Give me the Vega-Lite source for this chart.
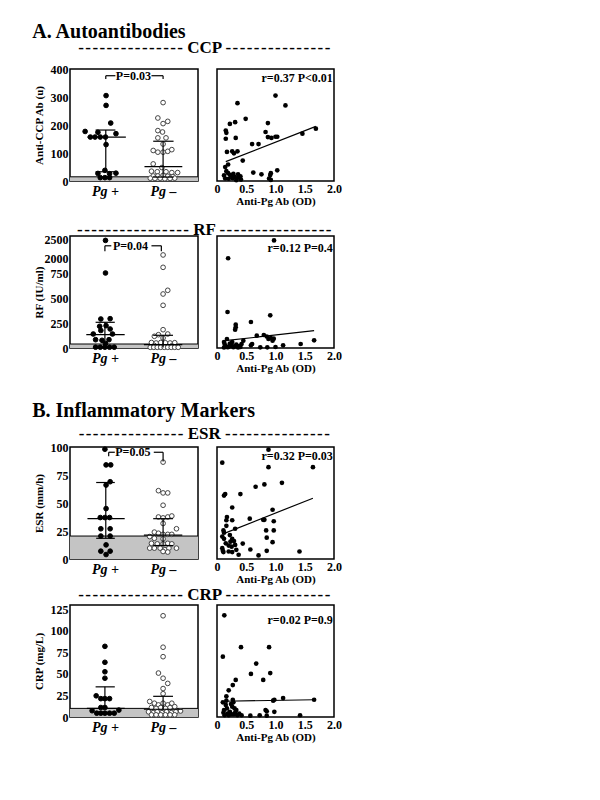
{
  "$schema": "https://vega.github.io/schema/vega-lite/v6.json",
  "padding": {"top": 22, "left": 32, "right": 5, "bottom": 5},
  "config": {
    "font": "Liberation Serif",
    "view": {"stroke": "black", "strokeWidth": 1.5},
    "axis": {"grid": false, "ticks": false, "domain": false, "labelFont": "Liberation Serif", "labelFontWeight": "bold", "labelFontSize": 12, "labelColor": "black", "titleFont": "Liberation Serif", "titleFontWeight": "bold", "titleFontSize": 11, "titleColor": "black", "labelOverlap": false, "labelFlush": false, "tickCount": 12},
    "title": {"font": "Liberation Serif", "fontWeight": "bold", "color": "black", "fontSize": 17, "offset": 4},
    "text": {"font": "Liberation Serif"}
  },
  "datasets": {
    "ccp_d": [
      {"x":1.02,"v":305,"g":"+"},{"x":1.02,"v":270,"g":"+"},{"x":1.10,"v":207,"g":"+"},{"x":0.66,"v":177,"g":"+"},{"x":0.88,"v":174,"g":"+"},{"x":1.19,"v":169,"g":"+"},{"x":0.75,"v":157,"g":"+"},{"x":0.83,"v":157,"g":"+"},{"x":0.92,"v":157,"g":"+"},{"x":1.01,"v":157,"g":"+"},{"x":1.02,"v":130,"g":"+"},{"x":1.0,"v":38,"g":"+"},{"x":0.88,"v":27,"g":"+"},{"x":1.08,"v":26,"g":"+"},{"x":1.19,"v":28,"g":"+"},{"x":0.92,"v":12,"g":"+"},{"x":1.0,"v":12,"g":"+"},{"x":1.08,"v":12,"g":"+"},
      {"x":2.0,"v":280,"g":"-"},{"x":1.91,"v":225,"g":"-"},{"x":2.08,"v":213,"g":"-"},{"x":2.0,"v":205,"g":"-"},{"x":1.91,"v":180,"g":"-"},{"x":1.99,"v":175,"g":"-"},{"x":1.91,"v":154,"g":"-"},{"x":2.05,"v":154,"g":"-"},{"x":2.0,"v":132,"g":"-"},{"x":1.83,"v":109,"g":"-"},{"x":1.91,"v":103,"g":"-"},{"x":2.0,"v":103,"g":"-"},{"x":2.08,"v":106,"g":"-"},{"x":2.15,"v":112,"g":"-"},{"x":1.83,"v":61,"g":"-"},{"x":1.98,"v":48,"g":"-"},{"x":1.80,"v":35,"g":"-"},{"x":1.90,"v":33,"g":"-"},{"x":2.05,"v":33,"g":"-"},{"x":2.15,"v":30,"g":"-"},{"x":2.25,"v":30,"g":"-"},{"x":1.83,"v":18,"g":"-"},{"x":1.91,"v":18,"g":"-"},{"x":2.0,"v":20,"g":"-"},{"x":2.08,"v":17,"g":"-"},{"x":2.17,"v":16,"g":"-"},{"x":1.78,"v":10,"g":"-"},{"x":1.86,"v":9,"g":"-"},{"x":1.95,"v":10,"g":"-"},{"x":2.03,"v":8,"g":"-"},{"x":2.12,"v":9,"g":"-"},{"x":2.2,"v":10,"g":"-"}
    ],
    "ccp_s": [
      {"x":1.0,"v":305},{"x":1.17,"v":270},{"x":0.35,"v":278},{"x":0.49,"v":222},{"x":0.22,"v":204},{"x":0.31,"v":210},{"x":0.87,"v":207},{"x":0.15,"v":180},{"x":0.16,"v":172},{"x":0.83,"v":175},{"x":0.32,"v":154},{"x":0.15,"v":151},{"x":0.87,"v":157},{"x":0.93,"v":154},{"x":1.0,"v":158},{"x":1.03,"v":158},{"x":0.60,"v":132},{"x":0.71,"v":132},{"x":0.17,"v":104},{"x":0.26,"v":106},{"x":0.29,"v":99},{"x":0.35,"v":106},{"x":1.46,"v":169},{"x":1.69,"v":187},{"x":0.44,"v":73},{"x":0.19,"v":59},{"x":0.14,"v":50},{"x":0.16,"v":35},{"x":0.19,"v":28},{"x":0.28,"v":26},{"x":0.30,"v":15},{"x":0.36,"v":24},{"x":0.40,"v":17},{"x":0.62,"v":30},{"x":0.76,"v":24},{"x":0.92,"v":28},{"x":0.91,"v":21},{"x":1.03,"v":38},{"x":0.89,"v":9},{"x":0.14,"v":9},{"x":0.20,"v":8},{"x":0.27,"v":10},{"x":0.36,"v":12},{"x":0.25,"v":18},{"x":0.22,"v":22},{"x":0.12,"v":20},{"x":0.92,"v":4},{"x":0.41,"v":5},{"x":0.33,"v":3}
    ],
    "rf_d": [
      {"x":1.01,"v":2480,"g":"+"},{"x":1.01,"v":750,"g":"+"},{"x":0.93,"v":290,"g":"+"},{"x":1.09,"v":293,"g":"+"},{"x":0.91,"v":217,"g":"+"},{"x":1.02,"v":223,"g":"+"},{"x":1.09,"v":190,"g":"+"},{"x":0.93,"v":175,"g":"+"},{"x":0.80,"v":140,"g":"+"},{"x":1.13,"v":140,"g":"+"},{"x":0.84,"v":83,"g":"+"},{"x":0.95,"v":77,"g":"+"},{"x":1.07,"v":83,"g":"+"},{"x":1.01,"v":45,"g":"+"},{"x":0.84,"v":8,"g":"+"},{"x":0.92,"v":8,"g":"+"},{"x":1.0,"v":8,"g":"+"},{"x":1.08,"v":8,"g":"+"},{"x":1.16,"v":8,"g":"+"},
      {"x":2.0,"v":2083,"g":"-"},{"x":2.0,"v":1222,"g":"-"},{"x":2.08,"v":577,"g":"-"},{"x":2.0,"v":540,"g":"-"},{"x":2.0,"v":427,"g":"-"},{"x":2.0,"v":183,"g":"-"},{"x":1.92,"v":133,"g":"-"},{"x":2.08,"v":140,"g":"-"},{"x":1.85,"v":117,"g":"-"},{"x":2.0,"v":100,"g":"-"},{"x":1.80,"v":55,"g":"-"},{"x":1.88,"v":50,"g":"-"},{"x":1.96,"v":55,"g":"-"},{"x":2.04,"v":52,"g":"-"},{"x":2.12,"v":50,"g":"-"},{"x":2.2,"v":53,"g":"-"},{"x":1.85,"v":25,"g":"-"},{"x":2.15,"v":22,"g":"-"},{"x":1.78,"v":7,"g":"-"},{"x":1.84,"v":7,"g":"-"},{"x":1.9,"v":7,"g":"-"},{"x":1.96,"v":7,"g":"-"},{"x":2.02,"v":7,"g":"-"},{"x":2.08,"v":7,"g":"-"},{"x":2.14,"v":7,"g":"-"},{"x":2.2,"v":7,"g":"-"},{"x":2.26,"v":7,"g":"-"}
    ],
    "rf_s": [
      {"x":0.975,"v":2480},{"x":0.19,"v":1980},{"x":0.18,"v":360},{"x":0.58,"v":260},{"x":0.91,"v":327},{"x":0.32,"v":233},{"x":0.32,"v":207},{"x":0.31,"v":183},{"x":0.68,"v":123},{"x":0.80,"v":130},{"x":0.85,"v":115},{"x":0.92,"v":100},{"x":0.95,"v":73},{"x":0.88,"v":90},{"x":0.45,"v":73},{"x":0.58,"v":27},{"x":0.74,"v":7},{"x":0.86,"v":7},{"x":1.0,"v":10},{"x":1.13,"v":27},{"x":1.43,"v":40},{"x":1.66,"v":77},{"x":0.12,"v":60},{"x":0.13,"v":40},{"x":0.15,"v":20},{"x":0.12,"v":5},{"x":0.2,"v":10},{"x":0.22,"v":45},{"x":0.25,"v":30},{"x":0.28,"v":8},{"x":0.3,"v":15},{"x":0.33,"v":35},{"x":0.36,"v":5},{"x":0.38,"v":20},{"x":0.4,"v":10},{"x":0.42,"v":40},{"x":0.17,"v":90},{"x":0.26,"v":60},{"x":0.6,"v":40},{"x":0.97,"v":93},{"x":0.18,"v":8},{"x":0.23,"v":25}
    ],
    "esr_d": [
      {"x":1.0,"v":98,"g":"+"},{"x":1.02,"v":84,"g":"+"},{"x":1.10,"v":84,"g":"+"},{"x":1.09,"v":69,"g":"+"},{"x":1.02,"v":66,"g":"+"},{"x":1.02,"v":45,"g":"+"},{"x":0.92,"v":37,"g":"+"},{"x":1.0,"v":37,"g":"+"},{"x":1.08,"v":37,"g":"+"},{"x":0.93,"v":27,"g":"+"},{"x":1.09,"v":27,"g":"+"},{"x":0.93,"v":20.5,"g":"+"},{"x":1.09,"v":20.5,"g":"+"},{"x":1.02,"v":12.6,"g":"+"},{"x":0.93,"v":7,"g":"+"},{"x":1.09,"v":7,"g":"+"},{"x":1.02,"v":4,"g":"+"},
      {"x":2.0,"v":86.5,"g":"-"},{"x":1.92,"v":61,"g":"-"},{"x":2.0,"v":59,"g":"-"},{"x":2.08,"v":59,"g":"-"},{"x":2.0,"v":48,"g":"-"},{"x":1.92,"v":37.5,"g":"-"},{"x":2.0,"v":36.7,"g":"-"},{"x":2.08,"v":37.5,"g":"-"},{"x":2.15,"v":38.4,"g":"-"},{"x":2.0,"v":31.7,"g":"-"},{"x":2.23,"v":27,"g":"-"},{"x":1.85,"v":24,"g":"-"},{"x":1.92,"v":23,"g":"-"},{"x":2.0,"v":22,"g":"-"},{"x":2.08,"v":22,"g":"-"},{"x":2.15,"v":22,"g":"-"},{"x":1.77,"v":20,"g":"-"},{"x":1.85,"v":18.5,"g":"-"},{"x":2.0,"v":18,"g":"-"},{"x":1.80,"v":14,"g":"-"},{"x":1.90,"v":13.5,"g":"-"},{"x":2.0,"v":13.5,"g":"-"},{"x":2.08,"v":14,"g":"-"},{"x":2.15,"v":13.5,"g":"-"},{"x":1.77,"v":9.7,"g":"-"},{"x":1.85,"v":9.7,"g":"-"},{"x":1.95,"v":9.7,"g":"-"},{"x":2.03,"v":8.3,"g":"-"},{"x":2.1,"v":9.7,"g":"-"},{"x":2.23,"v":9.7,"g":"-"},{"x":2.0,"v":6.7,"g":"-"},{"x":2.08,"v":6.2,"g":"-"}
    ],
    "esr_s": [
      {"x":0.88,"v":97.6},{"x":0.09,"v":86},{"x":0.88,"v":82},{"x":1.64,"v":82},{"x":1.11,"v":68},{"x":0.81,"v":66.6},{"x":0.66,"v":64.5},{"x":0.40,"v":58},{"x":0.14,"v":58},{"x":0.12,"v":56.6},{"x":0.26,"v":46},{"x":0.95,"v":44},{"x":0.17,"v":37.5},{"x":0.16,"v":34.6},{"x":0.56,"v":36},{"x":0.26,"v":34.6},{"x":0.79,"v":35},{"x":0.81,"v":35},{"x":0.97,"v":33.7},{"x":0.16,"v":29.6},{"x":0.31,"v":27},{"x":0.11,"v":25.5},{"x":0.12,"v":23.5},{"x":0.84,"v":25.5},{"x":0.97,"v":25.5},{"x":0.09,"v":20},{"x":0.22,"v":21.4},{"x":0.26,"v":17.9},{"x":0.29,"v":16},{"x":0.23,"v":15.5},{"x":0.85,"v":19},{"x":0.44,"v":13.8},{"x":0.95,"v":15},{"x":0.57,"v":8.5},{"x":0.85,"v":7.3},{"x":1.41,"v":6.7},{"x":0.71,"v":3.2},{"x":0.09,"v":9.7},{"x":0.10,"v":7.3},{"x":0.11,"v":6.2},{"x":0.20,"v":6.7},{"x":0.26,"v":6.2},{"x":0.33,"v":8.2},{"x":0.37,"v":3.8},{"x":0.31,"v":12.6},{"x":0.2,"v":12},{"x":0.15,"v":14},{"x":0.25,"v":11},{"x":0.12,"v":18}
    ],
    "crp_d": [
      {"x":1.0,"v":82,"g":"+"},{"x":1.0,"v":63.5,"g":"+"},{"x":1.0,"v":52.5,"g":"+"},{"x":1.0,"v":45,"g":"+"},{"x":0.85,"v":24.6,"g":"+"},{"x":0.93,"v":21.3,"g":"+"},{"x":1.0,"v":21.3,"g":"+"},{"x":1.08,"v":21.3,"g":"+"},{"x":0.93,"v":11,"g":"+"},{"x":1.0,"v":11,"g":"+"},{"x":0.78,"v":7.3,"g":"+"},{"x":1.24,"v":8,"g":"+"},{"x":0.86,"v":4.4,"g":"+"},{"x":0.93,"v":4.4,"g":"+"},{"x":1.0,"v":4.4,"g":"+"},{"x":1.08,"v":4.4,"g":"+"},{"x":1.16,"v":4.4,"g":"+"},
      {"x":2.0,"v":117.5,"g":"-"},{"x":2.0,"v":81,"g":"-"},{"x":2.0,"v":70,"g":"-"},{"x":1.92,"v":51,"g":"-"},{"x":2.0,"v":45,"g":"-"},{"x":2.08,"v":39,"g":"-"},{"x":2.0,"v":33,"g":"-"},{"x":2.0,"v":27,"g":"-"},{"x":1.77,"v":18,"g":"-"},{"x":1.85,"v":16,"g":"-"},{"x":1.92,"v":14,"g":"-"},{"x":2.0,"v":16,"g":"-"},{"x":2.08,"v":14,"g":"-"},{"x":2.15,"v":16,"g":"-"},{"x":1.8,"v":11,"g":"-"},{"x":1.88,"v":10,"g":"-"},{"x":1.96,"v":11,"g":"-"},{"x":2.04,"v":10,"g":"-"},{"x":2.12,"v":11,"g":"-"},{"x":2.2,"v":12,"g":"-"},{"x":1.75,"v":6,"g":"-"},{"x":1.83,"v":5,"g":"-"},{"x":1.9,"v":6,"g":"-"},{"x":1.98,"v":5,"g":"-"},{"x":2.06,"v":6,"g":"-"},{"x":2.14,"v":5,"g":"-"},{"x":2.22,"v":6,"g":"-"},{"x":2.3,"v":7,"g":"-"},{"x":1.8,"v":2.5,"g":"-"},{"x":1.88,"v":2.5,"g":"-"},{"x":1.96,"v":2.5,"g":"-"},{"x":2.04,"v":2.5,"g":"-"},{"x":2.12,"v":2.5,"g":"-"},{"x":2.2,"v":2.5,"g":"-"}
    ],
    "crp_s": [
      {"x":0.125,"v":118},{"x":0.10,"v":70},{"x":0.41,"v":81},{"x":0.89,"v":81},{"x":0.67,"v":62},{"x":0.58,"v":50},{"x":0.91,"v":51},{"x":0.32,"v":43},{"x":0.79,"v":43},{"x":0.27,"v":37},{"x":0.20,"v":31},{"x":0.16,"v":24},{"x":1.13,"v":22},{"x":0.98,"v":20},{"x":0.96,"v":19},{"x":1.66,"v":20},{"x":0.83,"v":8},{"x":0.85,"v":6.7},{"x":0.98,"v":6},{"x":0.57,"v":1.5},{"x":0.73,"v":2},{"x":0.85,"v":1.5},{"x":1.42,"v":2},{"x":0.1,"v":17},{"x":0.15,"v":14},{"x":0.17,"v":10},{"x":0.24,"v":15},{"x":0.26,"v":12},{"x":0.28,"v":17},{"x":0.3,"v":10},{"x":0.33,"v":8},{"x":0.12,"v":8},{"x":0.11,"v":5},{"x":0.13,"v":2},{"x":0.18,"v":4},{"x":0.2,"v":2},{"x":0.22,"v":6},{"x":0.25,"v":3},{"x":0.29,"v":3},{"x":0.31,"v":5},{"x":0.35,"v":2},{"x":0.38,"v":4},{"x":0.42,"v":2},{"x":0.16,"v":19},{"x":0.27,"v":20}
    ]
  },
  "spacing": 27,
  "vconcat": [
    {
      "title": {"text": "A. Autoantibodies", "anchor": "start", "fontSize": 20, "offset": -3},
      "spacing": 13,
      "vconcat": [
        {
          "title": {"text": "-\u200a-\u200a-\u200a-\u200a-\u200a-\u200a-\u200a-\u200a-\u200a-\u200a-\u200a-\u200a-\u200a-\u200a- CCP -\u200a-\u200a-\u200a-\u200a-\u200a-\u200a-\u200a-\u200a-\u200a-\u200a-\u200a-\u200a-\u200a-\u200a-", "anchor": "middle", "dx": 17, "offset": 5},
          "spacing": 13,
          "hconcat": [
            {
              "width": 128, "height": 112,
              "layer": [
                {"data": {"values": [{"v": 0, "v2": 15}]}, "mark": {"type": "rect", "color": "#c4c4c4"}, "encoding": {"y": {"field": "v", "type": "quantitative"}, "y2": {"field": "v2"}}},
                {"data": {"values": [{"v": 15}]}, "mark": {"type": "rule", "color": "black", "strokeWidth": 1}, "encoding": {"y": {"field": "v", "type": "quantitative"}}},
                {"data": {"name": "ccp_d"}, "mark": {"type": "point", "shape": "circle", "size": 22, "strokeWidth": 1, "opacity": 1},
                 "encoding": {
                   "x": {"field": "x", "type": "quantitative", "scale": {"domain": [0.55, 2.46]}, "axis": {"values": [1, 2], "tickCount": 12, "labelExpr": "datum.value == 1 ? 'Pg +' : 'Pg –'", "title": null, "labelFontStyle": "italic", "labelFontSize": 14, "labelPadding": 3, "labelOverlap": false}},
                   "y": {"field": "v", "type": "quantitative", "scale": {"domain": [0, 400]}, "axis": {"values": [0, 100, 200, 300, 400], "tickCount": 12, "format": "d", "title": "Anti-CCP Ab (u)", "labelPadding": 2, "minExtent": 26, "maxExtent": 26, "titlePadding": 0, "labelOverlap": false}},
                   "fill": {"condition": {"test": "datum.g == '+'", "value": "black"}, "value": "white"},
                   "stroke": {"condition": {"test": "datum.g == '+'", "value": "black"}, "value": "#444444"}
                 }},
                {"data": {"values": [
                  {"x":0.70,"x2":1.36,"v":157,"v2":157},{"x":0.84,"x2":1.18,"v":182,"v2":182},{"x":0.84,"x2":1.18,"v":33,"v2":33},{"x":1.015,"x2":1.015,"v":33,"v2":182},
                  {"x":1.68,"x2":2.33,"v":51,"v2":51},{"x":1.83,"x2":2.18,"v":142,"v2":142},{"x":1.83,"x2":2.18,"v":14,"v2":14},{"x":2.0,"x2":2.0,"v":14,"v2":142},
                  {"x":1.015,"x2":1.015,"v":364,"v2":376},{"x":1.015,"x2":1.18,"v":376,"v2":376},{"x":1.8,"x2":2.0,"v":376,"v2":376},{"x":2.0,"x2":2.0,"v":376,"v2":364}
                 ]}, "mark": {"type": "rule", "color": "black", "strokeWidth": 1.2},
                 "encoding": {"x": {"field": "x", "type": "quantitative"}, "x2": {"field": "x2"}, "y": {"field": "v", "type": "quantitative"}, "y2": {"field": "v2"}}},
                {"data": {"values": [{"x": 1.49, "v": 376, "t": "P=0.03"}]}, "mark": {"type": "text", "fontWeight": "bold", "fontSize": 12, "baseline": "middle"},
                 "encoding": {"x": {"field": "x", "type": "quantitative"}, "y": {"field": "v", "type": "quantitative"}, "text": {"field": "t"}}}
              ]
            },
            {
              "width": 117, "height": 112,
              "layer": [
                {"data": {"name": "ccp_s"}, "mark": {"type": "circle", "size": 22, "color": "black", "opacity": 1},
                 "encoding": {
                   "x": {"field": "x", "type": "quantitative", "scale": {"domain": [0, 2]}, "axis": {"values": [0, 0.5, 1, 1.5, 2], "tickCount": 12, "labelExpr": "datum.value == 0 ? '0' : format(datum.value, '.1f')", "title": "Anti-Pg Ab (OD)", "labelPadding": 2, "titlePadding": 1, "labelOverlap": false}},
                   "y": {"field": "v", "type": "quantitative", "scale": {"domain": [0, 400]}, "axis": null}
                 }},
                {"data": {"values": [{"x": 0.15, "x2": 1.69, "v": 69, "v2": 195}]}, "mark": {"type": "rule", "color": "black", "strokeWidth": 1.2},
                 "encoding": {"x": {"field": "x", "type": "quantitative"}, "x2": {"field": "x2"}, "y": {"field": "v", "type": "quantitative", "axis": null}, "y2": {"field": "v2"}}},
                {"data": {"values": [{"x": 1.98, "v": 369, "t": "r=0.37 P<0.01"}]}, "mark": {"type": "text", "align": "right", "baseline": "middle", "fontWeight": "bold", "fontSize": 12},
                 "encoding": {"x": {"field": "x", "type": "quantitative"}, "y": {"field": "v", "type": "quantitative", "axis": null}, "text": {"field": "t"}}}
              ]
            }
          ]
        },
        {
          "title": {"text": "-\u200a-\u200a-\u200a-\u200a-\u200a-\u200a-\u200a-\u200a-\u200a-\u200a-\u200a-\u200a-\u200a-\u200a-\u200a- RF -\u200a-\u200a-\u200a-\u200a-\u200a-\u200a-\u200a-\u200a-\u200a-\u200a-\u200a-\u200a-\u200a-\u200a-\u200a-", "anchor": "middle", "dx": 17, "offset": -6},
          "spacing": 13,
          "hconcat": [
            {
              "width": 128, "height": 112,
              "layer": [
                {"data": {"values": [{"v": 0, "v2": 40}]}, "mark": {"type": "rect", "color": "#c4c4c4"}, "encoding": {"y": {"field": "v", "type": "quantitative"}, "y2": {"field": "v2"}}},
                {"data": {"values": [{"v": 40}]}, "mark": {"type": "rule", "color": "black", "strokeWidth": 1}, "encoding": {"y": {"field": "v", "type": "quantitative"}}},
                {"data": {"name": "rf_d"}, "mark": {"type": "point", "shape": "circle", "size": 22, "strokeWidth": 1, "opacity": 1},
                 "encoding": {
                   "x": {"field": "x", "type": "quantitative", "scale": {"domain": [0.55, 2.46]}, "axis": {"values": [1, 2], "tickCount": 12, "labelExpr": "datum.value == 1 ? 'Pg +' : 'Pg –'", "title": null, "labelFontStyle": "italic", "labelFontSize": 14, "labelPadding": 3, "labelOverlap": false}},
                   "y": {"field": "v", "type": "quantitative", "scale": {"domain": [0, 750, 2000, 2550], "range": [112, 37, 22, 0]}, "axis": {"values": [0, 250, 500, 750, 2000, 2500], "tickCount": 12, "format": "d", "title": "RF (IU/ml)", "labelPadding": 2, "minExtent": 26, "maxExtent": 26, "titlePadding": 0, "labelOverlap": false}},
                   "fill": {"condition": {"test": "datum.g == '+'", "value": "black"}, "value": "white"},
                   "stroke": {"condition": {"test": "datum.g == '+'", "value": "black"}, "value": "#444444"}
                 }},
                {"data": {"values": [
                  {"x":0.68,"x2":1.34,"v":133,"v2":133},{"x":0.84,"x2":1.17,"v":257,"v2":257},{"x":0.84,"x2":1.17,"v":10,"v2":10},{"x":1.0,"x2":1.0,"v":10,"v2":257},
                  {"x":1.67,"x2":2.33,"v":33,"v2":33},{"x":1.83,"x2":2.17,"v":127,"v2":127},{"x":2.0,"x2":2.0,"v":5,"v2":127},
                  {"x":1.0,"x2":1.0,"v":2183,"v2":2333},{"x":1.0,"x2":1.11,"v":2333,"v2":2333},{"x":1.8,"x2":1.97,"v":2333,"v2":2333},{"x":1.97,"x2":1.97,"v":2333,"v2":2183}
                 ]}, "mark": {"type": "rule", "color": "black", "strokeWidth": 1.2},
                 "encoding": {"x": {"field": "x", "type": "quantitative"}, "x2": {"field": "x2"}, "y": {"field": "v", "type": "quantitative"}, "y2": {"field": "v2"}}},
                {"data": {"values": [{"x": 1.44, "v": 2333, "t": "P=0.04"}]}, "mark": {"type": "text", "fontWeight": "bold", "fontSize": 12, "baseline": "middle"},
                 "encoding": {"x": {"field": "x", "type": "quantitative"}, "y": {"field": "v", "type": "quantitative"}, "text": {"field": "t"}}}
              ]
            },
            {
              "width": 117, "height": 112,
              "layer": [
                {"data": {"name": "rf_s"}, "mark": {"type": "circle", "size": 22, "color": "black", "opacity": 1},
                 "encoding": {
                   "x": {"field": "x", "type": "quantitative", "scale": {"domain": [0, 2]}, "axis": {"values": [0, 0.5, 1, 1.5, 2], "tickCount": 12, "labelExpr": "datum.value == 0 ? '0' : format(datum.value, '.1f')", "title": "Anti-Pg Ab (OD)", "labelPadding": 2, "titlePadding": 1, "labelOverlap": false}},
                   "y": {"field": "v", "type": "quantitative", "scale": {"domain": [0, 750, 2000, 2550], "range": [112, 37, 22, 0]}, "axis": null}
                 }},
                {"data": {"values": [{"x": 0.14, "x2": 1.66, "v": 73, "v2": 173}]}, "mark": {"type": "rule", "color": "black", "strokeWidth": 1.2},
                 "encoding": {"x": {"field": "x", "type": "quantitative"}, "x2": {"field": "x2"}, "y": {"field": "v", "type": "quantitative", "axis": null}, "y2": {"field": "v2"}}},
                {"data": {"values": [{"x": 1.98, "v": 2268, "t": "r=0.12 P=0.4"}]}, "mark": {"type": "text", "align": "right", "baseline": "middle", "fontWeight": "bold", "fontSize": 12},
                 "encoding": {"x": {"field": "x", "type": "quantitative"}, "y": {"field": "v", "type": "quantitative", "axis": null}, "text": {"field": "t"}}}
              ]
            }
          ]
        }
      ]
    },
    {
      "title": {"text": "B. Inflammatory Markers", "anchor": "start", "fontSize": 20, "offset": 4},
      "spacing": 0,
      "vconcat": [
        {
          "title": {"text": "-\u200a-\u200a-\u200a-\u200a-\u200a-\u200a-\u200a-\u200a-\u200a-\u200a-\u200a-\u200a-\u200a-\u200a- ESR -\u200a-\u200a-\u200a-\u200a-\u200a-\u200a-\u200a-\u200a-\u200a-\u200a-\u200a-\u200a-\u200a-\u200a-", "anchor": "middle", "dx": 17, "offset": -3},
          "spacing": 13,
          "hconcat": [
            {
              "width": 128, "height": 112,
              "layer": [
                {"data": {"values": [{"v": 0, "v2": 20.5}]}, "mark": {"type": "rect", "color": "#c4c4c4"}, "encoding": {"y": {"field": "v", "type": "quantitative"}, "y2": {"field": "v2"}}},
                {"data": {"values": [{"v": 20.5}]}, "mark": {"type": "rule", "color": "black", "strokeWidth": 1}, "encoding": {"y": {"field": "v", "type": "quantitative"}}},
                {"data": {"name": "esr_d"}, "mark": {"type": "point", "shape": "circle", "size": 22, "strokeWidth": 1, "opacity": 1},
                 "encoding": {
                   "x": {"field": "x", "type": "quantitative", "scale": {"domain": [0.55, 2.46]}, "axis": {"values": [1, 2], "tickCount": 12, "labelExpr": "datum.value == 1 ? 'Pg +' : 'Pg –'", "title": null, "labelFontStyle": "italic", "labelFontSize": 14, "labelPadding": 3, "labelOverlap": false}},
                   "y": {"field": "v", "type": "quantitative", "scale": {"domain": [0, 100]}, "axis": {"values": [0, 25, 50, 75, 100], "tickCount": 12, "format": "d", "title": "ESR (mm/h)", "labelPadding": 2, "minExtent": 26, "maxExtent": 26, "titlePadding": 0, "labelOverlap": false}},
                   "fill": {"condition": {"test": "datum.g == '+'", "value": "black"}, "value": "white"},
                   "stroke": {"condition": {"test": "datum.g == '+'", "value": "black"}, "value": "#444444"}
                 }},
                {"data": {"values": [
                  {"x":0.70,"x2":1.34,"v":36,"v2":36},{"x":0.85,"x2":1.17,"v":68.3,"v2":68.3},{"x":0.85,"x2":1.17,"v":18.5,"v2":18.5},{"x":1.015,"x2":1.015,"v":18.5,"v2":68.3},
                  {"x":1.67,"x2":2.33,"v":21.4,"v2":21.4},{"x":1.83,"x2":2.17,"v":36,"v2":36},{"x":1.83,"x2":2.17,"v":12,"v2":12},{"x":2.0,"x2":2.0,"v":12,"v2":36},
                  {"x":1.065,"x2":1.065,"v":91.8,"v2":95.3},{"x":1.065,"x2":1.17,"v":95.3,"v2":95.3},{"x":1.84,"x2":2.0,"v":95.3,"v2":95.3},{"x":2.0,"x2":2.0,"v":95.3,"v2":87}
                 ]}, "mark": {"type": "rule", "color": "black", "strokeWidth": 1.2},
                 "encoding": {"x": {"field": "x", "type": "quantitative"}, "x2": {"field": "x2"}, "y": {"field": "v", "type": "quantitative"}, "y2": {"field": "v2"}}},
                {"data": {"values": [{"x": 1.48, "v": 95.3, "t": "P=0.05"}]}, "mark": {"type": "text", "fontWeight": "bold", "fontSize": 12, "baseline": "middle"},
                 "encoding": {"x": {"field": "x", "type": "quantitative"}, "y": {"field": "v", "type": "quantitative"}, "text": {"field": "t"}}}
              ]
            },
            {
              "width": 117, "height": 112,
              "layer": [
                {"data": {"name": "esr_s"}, "mark": {"type": "circle", "size": 22, "color": "black", "opacity": 1},
                 "encoding": {
                   "x": {"field": "x", "type": "quantitative", "scale": {"domain": [0, 2]}, "axis": {"values": [0, 0.5, 1, 1.5, 2], "tickCount": 12, "labelExpr": "datum.value == 0 ? '0' : format(datum.value, '.1f')", "title": "Anti-Pg Ab (OD)", "labelPadding": 2, "titlePadding": 1, "labelOverlap": false}},
                   "y": {"field": "v", "type": "quantitative", "scale": {"domain": [0, 100]}, "axis": null}
                 }},
                {"data": {"values": [{"x": 0.125, "x2": 1.64, "v": 22.9, "v2": 54.3}]}, "mark": {"type": "rule", "color": "black", "strokeWidth": 1.2},
                 "encoding": {"x": {"field": "x", "type": "quantitative"}, "x2": {"field": "x2"}, "y": {"field": "v", "type": "quantitative", "axis": null}, "y2": {"field": "v2"}}},
                {"data": {"values": [{"x": 1.98, "v": 92, "t": "r=0.32 P=0.03"}]}, "mark": {"type": "text", "align": "right", "baseline": "middle", "fontWeight": "bold", "fontSize": 12},
                 "encoding": {"x": {"field": "x", "type": "quantitative"}, "y": {"field": "v", "type": "quantitative", "axis": null}, "text": {"field": "t"}}}
              ]
            }
          ]
        },
        {
          "title": {"text": "-\u200a-\u200a-\u200a-\u200a-\u200a-\u200a-\u200a-\u200a-\u200a-\u200a-\u200a-\u200a-\u200a-\u200a- CRP -\u200a-\u200a-\u200a-\u200a-\u200a-\u200a-\u200a-\u200a-\u200a-\u200a-\u200a-\u200a-\u200a-\u200a-", "anchor": "middle", "dx": 17, "offset": -1},
          "spacing": 13,
          "hconcat": [
            {
              "width": 128, "height": 112,
              "layer": [
                {"data": {"values": [{"v": 0, "v2": 10}]}, "mark": {"type": "rect", "color": "#c4c4c4"}, "encoding": {"y": {"field": "v", "type": "quantitative"}, "y2": {"field": "v2"}}},
                {"data": {"values": [{"v": 10}]}, "mark": {"type": "rule", "color": "black", "strokeWidth": 1}, "encoding": {"y": {"field": "v", "type": "quantitative"}}},
                {"data": {"name": "crp_d"}, "mark": {"type": "point", "shape": "circle", "size": 22, "strokeWidth": 1, "opacity": 1},
                 "encoding": {
                   "x": {"field": "x", "type": "quantitative", "scale": {"domain": [0.55, 2.46]}, "axis": {"values": [1, 2], "tickCount": 12, "labelExpr": "datum.value == 1 ? 'Pg +' : 'Pg –'", "title": null, "labelFontStyle": "italic", "labelFontSize": 14, "labelPadding": 3, "labelOverlap": false}},
                   "y": {"field": "v", "type": "quantitative", "scale": {"domain": [0, 125]}, "axis": {"values": [0, 25, 50, 75, 100, 125], "tickCount": 12, "format": "d", "title": "CRP (mg/L)", "labelPadding": 2, "minExtent": 26, "maxExtent": 26, "titlePadding": 0, "labelOverlap": false}},
                   "fill": {"condition": {"test": "datum.g == '+'", "value": "black"}, "value": "white"},
                   "stroke": {"condition": {"test": "datum.g == '+'", "value": "black"}, "value": "#444444"}
                 }},
                {"data": {"values": [
                  {"x":0.69,"x2":1.34,"v":10,"v2":10},{"x":0.84,"x2":1.17,"v":35,"v2":35},{"x":1.0,"x2":1.0,"v":10,"v2":35},
                  {"x":1.67,"x2":2.33,"v":9,"v2":9},{"x":1.83,"x2":2.17,"v":24,"v2":24},{"x":2.0,"x2":2.0,"v":9,"v2":24}
                 ]}, "mark": {"type": "rule", "color": "black", "strokeWidth": 1.2},
                 "encoding": {"x": {"field": "x", "type": "quantitative"}, "x2": {"field": "x2"}, "y": {"field": "v", "type": "quantitative"}, "y2": {"field": "v2"}}}
              ]
            },
            {
              "width": 117, "height": 112,
              "layer": [
                {"data": {"name": "crp_s"}, "mark": {"type": "circle", "size": 22, "color": "black", "opacity": 1},
                 "encoding": {
                   "x": {"field": "x", "type": "quantitative", "scale": {"domain": [0, 2]}, "axis": {"values": [0, 0.5, 1, 1.5, 2], "tickCount": 12, "labelExpr": "datum.value == 0 ? '0' : format(datum.value, '.1f')", "title": "Anti-Pg Ab (OD)", "labelPadding": 2, "titlePadding": 1, "labelOverlap": false}},
                   "y": {"field": "v", "type": "quantitative", "scale": {"domain": [0, 125]}, "axis": null}
                 }},
                {"data": {"values": [{"x": 0.125, "x2": 1.66, "v": 18.3, "v2": 20}]}, "mark": {"type": "rule", "color": "black", "strokeWidth": 1.2},
                 "encoding": {"x": {"field": "x", "type": "quantitative"}, "x2": {"field": "x2"}, "y": {"field": "v", "type": "quantitative", "axis": null}, "y2": {"field": "v2"}}},
                {"data": {"values": [{"x": 1.98, "v": 113, "t": "r=0.02 P=0.9"}]}, "mark": {"type": "text", "align": "right", "baseline": "middle", "fontWeight": "bold", "fontSize": 12},
                 "encoding": {"x": {"field": "x", "type": "quantitative"}, "y": {"field": "v", "type": "quantitative", "axis": null}, "text": {"field": "t"}}}
              ]
            }
          ]
        }
      ]
    }
  ]
}
